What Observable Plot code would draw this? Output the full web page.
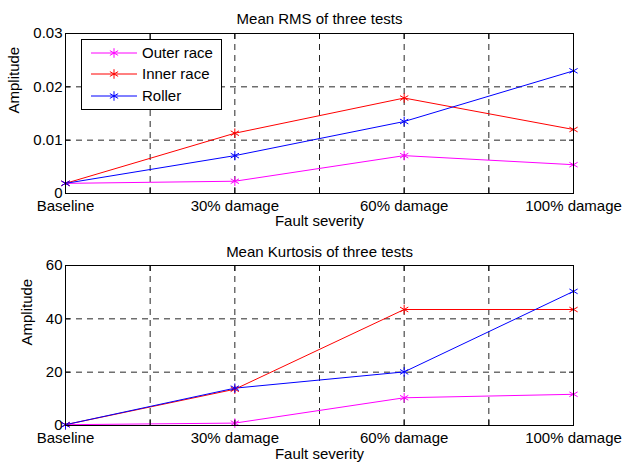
<!DOCTYPE html>
<html><head><meta charset="utf-8">
<script src="https://cdn.jsdelivr.net/npm/d3@7"></script>
<script src="https://cdn.jsdelivr.net/npm/@observablehq/plot@0.6"></script>
<style>
body{margin:0;background:#fff;}
#chart svg{display:block;}
</style>
</head><body><div id="chart"></div>
<script>
const categories = ["Baseline", "30% damage", "60% damage", "100% damage"];
const series = ["Outer race", "Inner race", "Roller"];
const colors = ["#ff00ff", "#ff0000", "#0000ff"];
const rmsOuter = [0.0019, 0.0023, 0.0071, 0.0054];
const rmsInner = [0.0019, 0.0113, 0.0179, 0.0120];
const rmsRoller = [0.0019, 0.0071, 0.0135, 0.0230];
const kurtOuter = [0.3, 0.9, 10.4, 11.7];
const kurtInner = [0.3, 13.6, 43.5, 43.5];
const kurtRoller = [0.3, 14.0, 20.1, 50.3];
const xTicks = [1, 1.5, 2, 2.5, 3, 3.5, 4];
const rmsTicks = [0, 0.01, 0.02, 0.03];
const kurtTicks = [0, 20, 40, 60];

const FONT = "'Liberation Sans', Arial, Helvetica, sans-serif";
const FS = 15;

function panel({title, values, yTicks, marginTop, marginBottom, ylabelDx, titleDy, tickPad, xlabelDy, legend}) {
  const data = series.flatMap((s, si) => categories.map((c, ci) => ({series: s, x: ci + 1, y: values[si][ci]})));
  const dash = {stroke: "#000", strokeDasharray: "6,5", strokeWidth: 1, strokeOpacity: 0.85};
  const xfmt = d => Number.isInteger(d) ? categories[d - 1] : "";
  const chart = Plot.plot({
    width: 622,
    height: 235,
    marginLeft: 65,
    marginRight: 49,
    marginTop,
    marginBottom,
    style: {fontFamily: FONT, fontSize: FS + "px", color: "#000", background: "#fff"},
    x: {domain: [1, 4]},
    y: {domain: [yTicks[0], yTicks[yTicks.length - 1]]},
    color: {domain: series, range: colors},
    marks: [
      Plot.ruleX(xTicks.slice(1, -1), dash),
      Plot.ruleY(yTicks.slice(1, -1), dash),
      Plot.line(data, {x: "x", y: "y", z: "series", stroke: "series", strokeWidth: 1}),
      Plot.dot(data, {x: "x", y: "y", stroke: "series", symbol: "asterisk", r: 4.5, strokeWidth: 1}),
      Plot.frame({stroke: "#000", strokeWidth: 1}),
      Plot.axisX({ticks: xTicks, tickSize: 0, tickPadding: tickPad, tickFormat: xfmt, label: null, fontSize: FS}),
      Plot.axisX({ticks: xTicks, tickSize: -5, text: null, label: null}),
      Plot.axisX({anchor: "top", ticks: xTicks, tickSize: -5, text: null, label: null}),
      Plot.axisY({ticks: yTicks, tickSize: 0, tickPadding: 3, tickFormat: d => String(d), label: null, fontSize: FS}),
      Plot.axisY({ticks: yTicks, tickSize: -5, text: null, label: null}),
      Plot.axisY({anchor: "right", ticks: yTicks, tickSize: -5, text: null, label: null}),
      Plot.text([title], {frameAnchor: "top", dy: titleDy, fontSize: FS, fill: "#000"}),
      Plot.text(["Fault severity"], {frameAnchor: "bottom", dy: xlabelDy, fontSize: FS, fill: "#000"}),
      Plot.text(["Amplitude"], {frameAnchor: "left", dx: ylabelDx, rotate: -90, fontSize: FS, fill: "#000"})
    ]
  });
  if (legend) {
    const svg = d3.select(chart);
    const g = svg.append("g").attr("font-family", FONT).attr("font-size", FS + "px").attr("text-anchor", "start");
    g.append("rect").attr("x", 81.5).attr("y", 39.5).attr("width", 140).attr("height", 70)
      .attr("fill", "#fff").attr("stroke", "#000");
    const rows = [53, 74, 96];
    series.forEach((s, i) => {
      const y = rows[i];
      g.append("line").attr("x1", 91).attr("x2", 137).attr("y1", y).attr("y2", y)
        .attr("stroke", colors[i]).attr("stroke-width", 1);
      g.append("path").attr("d", d3.symbol(d3.symbolAsterisk, 4.5 * 4.5 * Math.PI)())
        .attr("transform", `translate(114,${y})`).attr("fill", "none").attr("stroke", colors[i]);
      g.append("text").attr("x", 142).attr("y", y).attr("dy", "0.35em")
        .attr("text-anchor", "start").attr("fill", "#000").text(s);
    });
  }
  return chart;
}

const root = document.getElementById("chart");
root.appendChild(panel({
  title: "Mean RMS of three tests",
  values: [rmsOuter, rmsInner, rmsRoller],
  yTicks: rmsTicks,
  marginTop: 33, marginBottom: 42,
  ylabelDx: -51, titleDy: -20, tickPad: 7, xlabelDy: 32,
  legend: true
}));
root.appendChild(panel({
  title: "Mean Kurtosis of three tests",
  values: [kurtOuter, kurtInner, kurtRoller],
  yTicks: kurtTicks,
  marginTop: 30, marginBottom: 45,
  ylabelDx: -38, titleDy: -19, tickPad: 7, xlabelDy: 33,
  legend: false
}));
</script>
</body></html>
